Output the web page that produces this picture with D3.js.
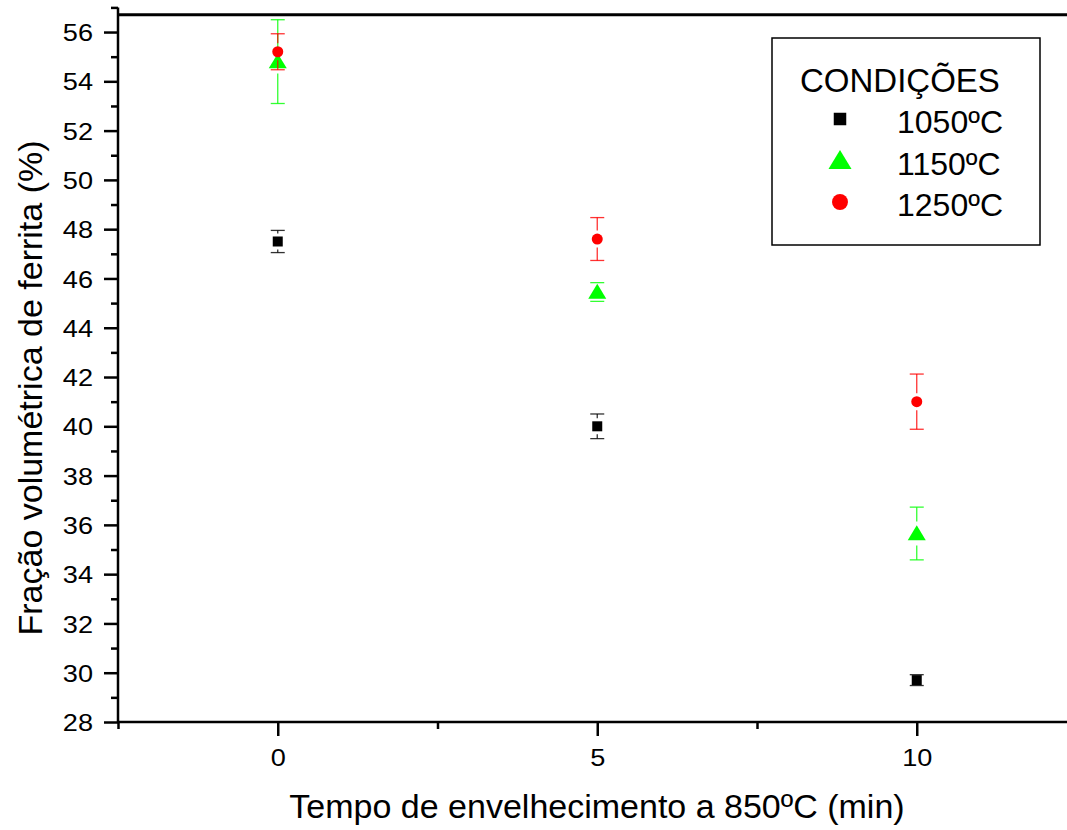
<!DOCTYPE html>
<html>
<head>
<meta charset="utf-8">
<script src="https://cdn.jsdelivr.net/npm/d3@7/dist/d3.min.js"></script>
<style>
  html, body { margin: 0; padding: 0; background: #fff; }
  svg { display: block; }
  text { font-family: "Liberation Sans", Arial, sans-serif; fill: #000; }
</style>
</head>
<body>
<svg id="chart" width="1067" height="830"></svg>
<script>
// Aging time at 850 ºC (min)
const times = [0, 5, 10];

// Ferrite volume fraction (%) per solution treatment temperature
const ferrite1050 = [47.5, 40.0, 29.7];
const ferrite1150 = [54.8, 45.45, 35.65];
const ferrite1250 = [55.2, 47.6, 41.0];

// Standard deviations (%)
const err1050 = [0.45, 0.5, 0.22];
const err1150 = [1.7, 0.38, 1.07];
const err1250 = [0.73, 0.87, 1.12];

const seriesNames = ["1050ºC", "1150ºC", "1250ºC"];
const seriesColors = ["#000000", "#00ff00", "#ff0000"];
const seriesShapes = ["square", "triangle", "circle"];

const xTicks = [0, 5, 10];
const xMinorTicks = [-2.5, 2.5, 7.5, 12.5];
const yTicks = [28, 30, 32, 34, 36, 38, 40, 42, 44, 46, 48, 50, 52, 54, 56];
const yMinorTicks = [29, 31, 33, 35, 37, 39, 41, 43, 45, 47, 49, 51, 53, 55, 57];

const legendTitle = "CONDIÇÕES";
const xTitle = "Tempo de envelhecimento a 850ºC (min)";
const yTitle = "Fração volumétrica de ferrita (%)";

const series = seriesNames.map((name, i) => ({
  name,
  color: seriesColors[i],
  shape: seriesShapes[i],
  values: [ferrite1050, ferrite1150, ferrite1250][i],
  errors: [err1050, err1150, err1250][i]
}));

const svg = d3.select("#chart");
const left = 118, bottom = 722;
const fontStack = "'Liberation Sans', Arial, sans-serif";

const x = d3.scaleLinear().domain([-2.5, 12.5]).range([left, left + 15 * 63.9]);
const y = d3.scaleLinear().domain([28, 57]).range([bottom, 7.4]);
const frameTop = 56.7;

// Slightly widened tick digits
function widen(sel, factor) {
  sel.each(function () {
    const w = this.getComputedTextLength();
    if (w > 0) d3.select(this).attr("textLength", w * factor).attr("lengthAdjust", "spacingAndGlyphs");
  });
}

// Top frame line
svg.append("line")
  .attr("x1", left).attr("x2", 1067)
  .attr("y1", y(frameTop)).attr("y2", y(frameTop))
  .attr("stroke", "#000").attr("stroke-width", 3);

// X axis
const gx = svg.append("g").attr("transform", `translate(0,${bottom})`);
gx.call(d3.axisBottom(x).tickValues(xTicks).tickSize(14).tickPadding(13).tickFormat(d3.format("d")));
gx.append("g").call(d3.axisBottom(x).tickValues(xMinorTicks).tickSize(7).tickFormat(""))
  .select(".domain").remove();
gx.select(".domain").attr("stroke-width", 2.5).attr("d", `M${left},0H1067`);
gx.selectAll(".tick line").attr("stroke-width", 2.5);
gx.selectAll(".tick text").style("font-size", "24px").style("font-family", fontStack)
  .call(widen, 1.13);

// Y axis
const gy = svg.append("g").attr("transform", `translate(${left},0)`);
gy.call(d3.axisLeft(y).tickValues(yTicks).tickSize(14).tickPadding(11).tickFormat(d3.format("d")));
gy.append("g").call(d3.axisLeft(y).tickValues(yMinorTicks).tickSize(7).tickFormat(""))
  .select(".domain").remove();
gy.select(".domain").attr("stroke-width", 2.5).attr("d", `M0,${y(57)}V${bottom}`);
gy.selectAll(".tick line").attr("stroke-width", 2.5);
gy.selectAll(".tick text").attr("dy", "0.36em").style("font-size", "24px").style("font-family", fontStack)
  .call(widen, 1.13);

// Axis titles
svg.append("text")
  .attr("x", 597).attr("y", 818)
  .attr("text-anchor", "middle").style("font-size", "34px")
  .text(xTitle);
svg.append("text")
  .attr("transform", `translate(42,388) rotate(-90)`)
  .attr("text-anchor", "middle").style("font-size", "34px")
  .text(yTitle);

// Marker geometry
const markerSize = { square: 10, triangle: 18, circle: 11 };
function drawMarker(g, shape, cx, cy, color, scale) {
  const s = markerSize[shape] * scale;
  if (shape === "square") {
    g.append("rect").attr("x", cx - s / 2).attr("y", cy - s / 2)
      .attr("width", s).attr("height", s).attr("fill", color);
  } else if (shape === "circle") {
    g.append("circle").attr("cx", cx).attr("cy", cy).attr("r", s / 2).attr("fill", color);
  } else {
    const h = s * 0.83;
    g.append("path")
      .attr("d", `M${cx},${cy - h * 0.55}L${cx + s / 2},${cy + h * 0.45}L${cx - s / 2},${cy + h * 0.45}Z`)
      .attr("fill", color);
  }
}

// Error bars and markers
const plot = svg.append("g");
series.forEach(s => {
  const g = plot.append("g");
  const gap = markerSize[s.shape] / 2 + 3;
  s.values.forEach((v, i) => {
    const cx = x(times[i]);
    const cy = y(v);
    const yTop = y(v + s.errors[i]);
    const yBot = y(v - s.errors[i]);
    const addLine = (x1, y1, x2, y2) => g.append("line")
      .attr("x1", x1).attr("y1", y1).attr("x2", x2).attr("y2", y2)
      .attr("stroke", s.color).attr("stroke-width", 1.3).attr("opacity", 0.8);
    if (cy - gap > yTop) addLine(cx, yTop, cx, cy - gap);
    if (cy + gap < yBot) addLine(cx, cy + gap, cx, yBot);
    addLine(cx - 7, yTop, cx + 7, yTop);
    addLine(cx - 7, yBot, cx + 7, yBot);
    drawMarker(g, s.shape, cx, cy, s.color, 1);
  });
});

// Legend
const lg = svg.append("g");
lg.append("rect").attr("x", 772).attr("y", 38).attr("width", 268).attr("height", 207)
  .attr("fill", "#fff").attr("stroke", "#000").attr("stroke-width", 1.5);
lg.append("text").attr("x", 800).attr("y", 92).style("font-size", "33px").text(legendTitle);
series.forEach((s, i) => {
  const rowY = 119 + i * 41.5;
  drawMarker(lg, s.shape, 840, rowY, s.color, s.shape === "square" ? 1.25 : (s.shape === "circle" ? 1.45 : 1.28));
  lg.append("text").attr("x", 897).attr("y", rowY + 14).style("font-size", "32px").text(s.name);
});
</script>
</body>
</html>
